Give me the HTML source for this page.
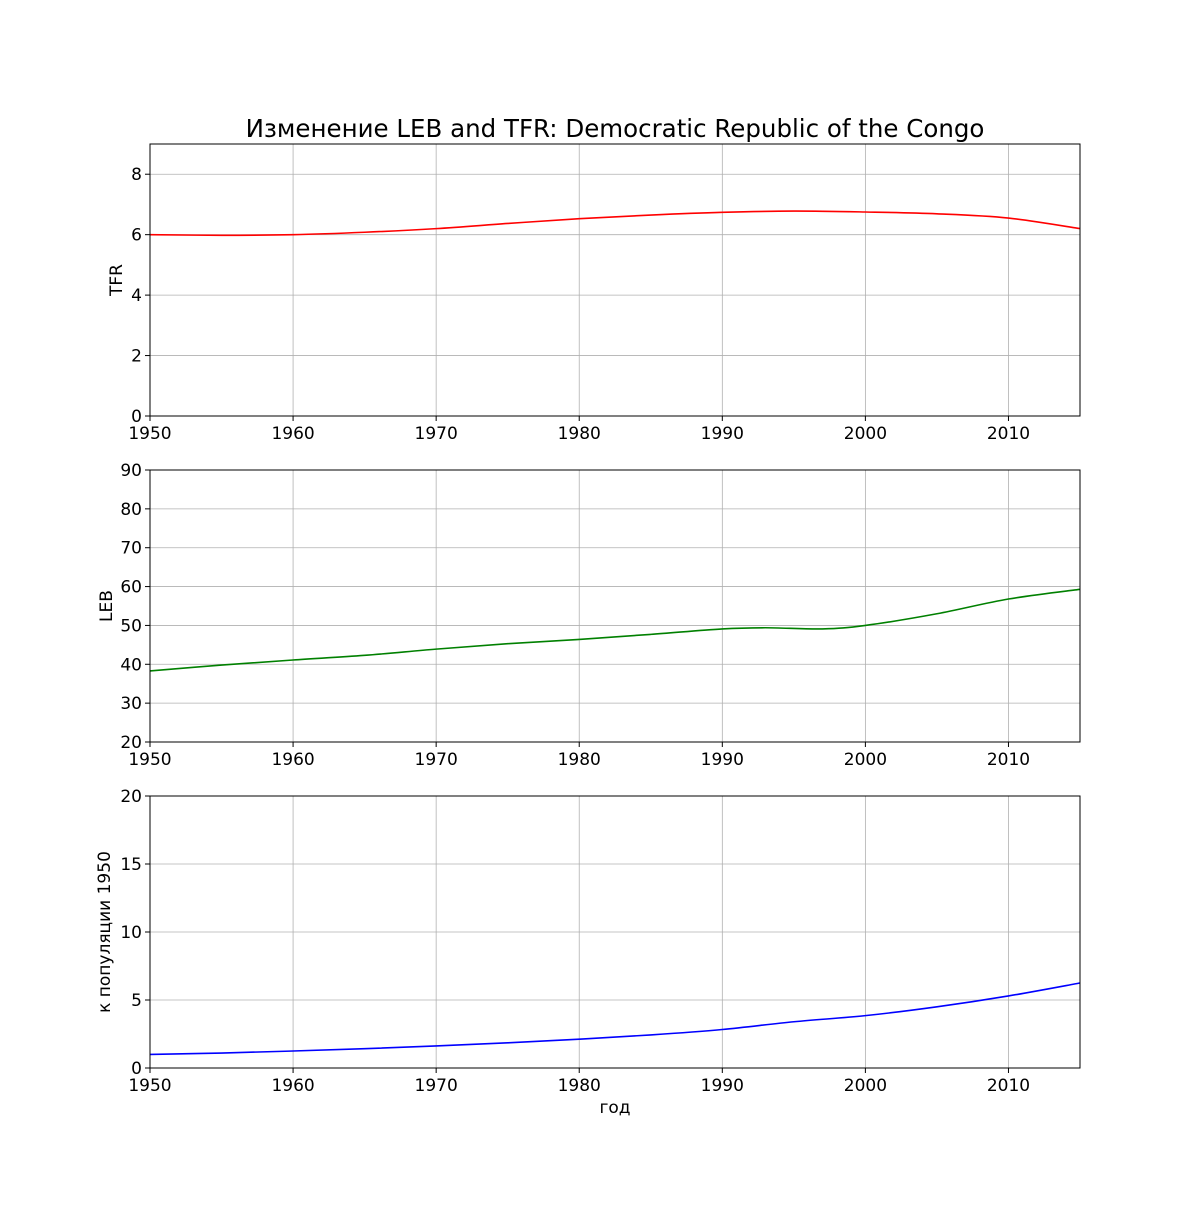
<!DOCTYPE html>
<html><head><meta charset="utf-8"><style>
html,body{margin:0;padding:0;background:#fff;}
svg text{font-family:"DejaVu Sans","Liberation Sans",sans-serif;fill:#000;}
</style></head><body>
<svg id="chart" width="1200" height="1200" xmlns="http://www.w3.org/2000/svg">
<text x="615" y="137" font-size="24.5" text-anchor="middle">Изменение LEB and TFR: Democratic Republic of the Congo</text>
</svg>
<script>
const tfrYears=[1950,1955,1960,1965,1970,1975,1980,1985,1990,1995,2000,2005,2010,2015];
const tfrValues=[6.0,5.98,6.0,6.08,6.2,6.37,6.53,6.65,6.74,6.78,6.75,6.69,6.55,6.2];
const lebYears=[1950,1955,1960,1965,1970,1975,1980,1985,1990,1993,1997,2000,2005,2010,2015];
const lebValues=[38.3,39.8,41.1,42.3,43.9,45.3,46.4,47.7,49.1,49.4,49.1,50.0,53.0,56.8,59.3];
const popYears=[1950,1955,1960,1965,1970,1975,1980,1985,1990,1995,2000,2005,2010,2015];
const popValues=[1.0,1.1,1.25,1.42,1.62,1.85,2.12,2.43,2.83,3.4,3.85,4.5,5.3,6.25];
const xTicks=[1950,1960,1970,1980,1990,2000,2010];
const tfrTicks=[0,2,4,6,8];
const lebTicks=[20,30,40,50,60,70,80,90];
const popTicks=[0,5,10,15,20];

const NS="http://www.w3.org/2000/svg";
const svg=document.getElementById('chart');
const L=150,R=1080;
function xs(y){return L+(y-1950)/(2015-1950)*(R-L);}
function el(t,a,p){const e=document.createElementNS(NS,t);for(const k in a)e.setAttribute(k,a[k]);(p||svg).appendChild(e);return e;}
function smooth(pts){let d=`M${pts[0][0]},${pts[0][1]}`;for(let i=0;i<pts.length-1;i++){const p0=pts[Math.max(0,i-1)],p1=pts[i],p2=pts[i+1],p3=pts[Math.min(pts.length-1,i+2)];const c1x=p1[0]+(p2[0]-p0[0])/6,c1y=p1[1]+(p2[1]-p0[1])/6,c2x=p2[0]-(p3[0]-p1[0])/6,c2y=p2[1]-(p3[1]-p1[1])/6;d+=` C${c1x},${c1y} ${c2x},${c2y} ${p2[0]},${p2[1]}`;}return d;}
function panel(name,top,bot,ymin,ymax,yt,years,vals,color,ylabel,ylx){
  const g=el('g',{});
  
  
  const ys=v=>bot-(v-ymin)/(ymax-ymin)*(bot-top);
  xTicks.forEach(t=>{const x=xs(t);
    const gl=el('line',{x1:x,x2:x,y1:top,y2:bot,stroke:'#b0b0b0','stroke-width':0.8},g);
    
    el('line',{x1:x,x2:x,y1:bot,y2:bot+5,stroke:'#000','stroke-width':1},g);
    const tx=el('text',{x:x,y:bot+23,'font-size':17,'text-anchor':'middle'},g);tx.textContent=t;
    });
  yt.forEach(t=>{const y=ys(t);
    const gl=el('line',{x1:L,x2:R,y1:y,y2:y,stroke:'#b0b0b0','stroke-width':0.8},g);
    
    el('line',{x1:L-5,x2:L,y1:y,y2:y,stroke:'#000','stroke-width':1},g);
    const tx=el('text',{x:L-8,y:y+6,'font-size':17,'text-anchor':'end'},g);tx.textContent=t;
    });
  const pts=years.map((yr,i)=>[xs(yr),ys(vals[i])]);
  const p=el('path',{d:smooth(pts),fill:'none',stroke:color,'stroke-width':1.6},g);
  
  const fr=el('rect',{x:L,y:top,width:R-L,height:bot-top,fill:'none',stroke:'#000','stroke-width':1},g);
  
  const yl=el('text',{x:ylx,y:(top+bot)/2,'font-size':17,'text-anchor':'middle',transform:`rotate(-90 ${ylx} ${(top+bot)/2})`},g);
  yl.textContent=ylabel;
  
}
panel('tfr',144,416,0,9,tfrTicks,tfrYears,tfrValues,'#ff0000','TFR',122);
panel('leb',470,742,20,90,lebTicks,lebYears,lebValues,'#008000','LEB',112);
panel('population',796,1068,0,20,popTicks,popYears,popValues,'#0000ff','к популяции 1950',110);
const xl=el('text',{x:615,y:1113,'font-size':17,'text-anchor':'middle'});
xl.textContent='год';


</script>
</body></html>
